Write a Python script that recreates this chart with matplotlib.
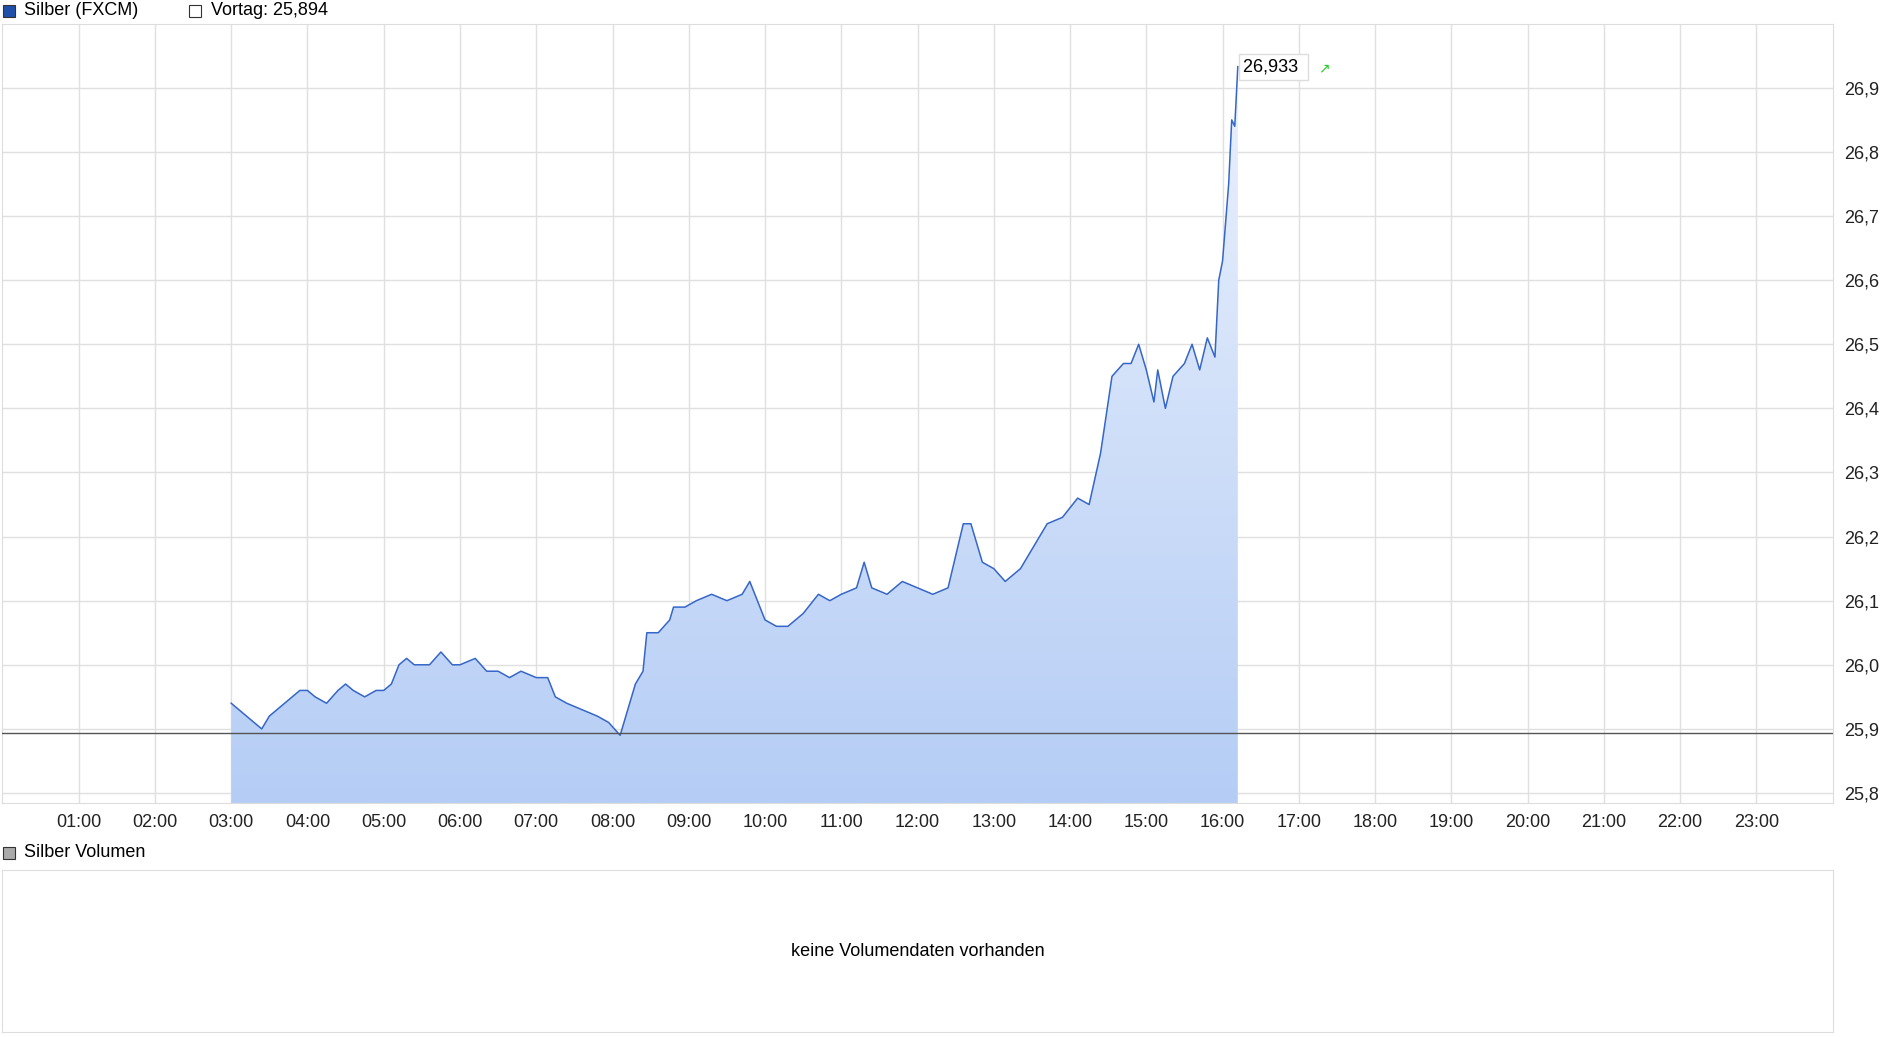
import matplotlib
matplotlib.use("Agg")
import matplotlib.pyplot as plt
import numpy as np
from matplotlib.patches import Polygon

plt.rcParams['font.family'] = ['Liberation Sans', 'DejaVu Sans']

times = [3.0,3.1,3.2,3.3,3.4,3.5,3.6,3.7,3.8,3.9,4.0,4.1,4.25,4.4,4.5,4.6,4.75,4.9,5.0,5.1,5.2,5.3,5.4,5.5,5.6,5.75,5.9,6.0,6.2,6.35,6.5,6.65,6.8,7.0,7.15,7.25,7.4,7.6,7.8,7.95,8.1,8.2,8.3,8.4,8.45,8.6,8.75,8.8,8.95,9.1,9.3,9.5,9.7,9.8,9.9,10.0,10.15,10.3,10.5,10.7,10.85,11.0,11.2,11.3,11.4,11.6,11.8,12.0,12.2,12.4,12.5,12.6,12.7,12.85,13.0,13.15,13.35,13.5,13.7,13.9,14.1,14.25,14.4,14.55,14.7,14.8,14.9,15.0,15.1,15.15,15.25,15.35,15.5,15.6,15.7,15.8,15.9,15.95,16.0,16.08,16.12,16.16,16.2]
prices = [25.94,25.93,25.92,25.91,25.90,25.92,25.93,25.94,25.95,25.96,25.96,25.95,25.94,25.96,25.97,25.96,25.95,25.96,25.96,25.97,26.0,26.01,26.0,26.0,26.0,26.02,26.0,26.0,26.01,25.99,25.99,25.98,25.99,25.98,25.98,25.95,25.94,25.93,25.92,25.91,25.89,25.93,25.97,25.99,26.05,26.05,26.07,26.09,26.09,26.1,26.11,26.1,26.11,26.13,26.1,26.07,26.06,26.06,26.08,26.11,26.1,26.11,26.12,26.16,26.12,26.11,26.13,26.12,26.11,26.12,26.17,26.22,26.22,26.16,26.15,26.13,26.15,26.18,26.22,26.23,26.26,26.25,26.33,26.45,26.47,26.47,26.5,26.46,26.41,26.46,26.4,26.45,26.47,26.5,26.46,26.51,26.48,26.6,26.63,26.75,26.85,26.84,26.933]
vortag = 25.894
yticks = [25.8,25.9,26.0,26.1,26.2,26.3,26.4,26.5,26.6,26.7,26.8,26.9]
xticks = list(range(1, 24))

fig = plt.figure(figsize=(18.8, 10.37), dpi=100)
ax = fig.add_axes([0.0013, 0.2254, 0.9735, 0.7511])
ymin, ymax = 25.784, 26.999
ax.set_xlim(0, 24); ax.set_ylim(ymin, ymax)

grad = np.linspace(0, 1, 256).reshape(-1, 1)
from matplotlib.colors import LinearSegmentedColormap
cmap = LinearSegmentedColormap.from_list('g', ['#b5cdf5', '#eaf1fd'])
im = ax.imshow(grad, cmap=cmap, origin='lower', aspect='auto',
               extent=[times[0], times[-1], ymin, max(prices)], zorder=1)
verts = [(times[0], ymin)] + list(zip(times, prices)) + [(times[-1], ymin)]
poly = Polygon(verts, closed=True, facecolor='none', edgecolor='none')
ax.add_patch(poly)
im.set_clip_path(poly)
ax.plot(times, prices, color='#3566c8', lw=1.1, zorder=3)
ax.axhline(vortag, color='#555555', lw=1, zorder=4)

ax.set_xticks(xticks)
ax.set_xticklabels([f"{h:02d}:00" for h in xticks])
ax.set_yticks(yticks)
ax.set_yticklabels([f"{v:.1f}".replace('.', ',') for v in yticks])
ax.yaxis.tick_right()
ax.tick_params(labelsize=13, length=0, pad=8, colors='#222222')
ax.grid(True, color='#e0e0e0', lw=1)
ax.set_axisbelow(True)
for s in ax.spines.values():
    s.set_color('#dddddd')

ax.annotate(f"{prices[-1]:.3f}".replace('.', ',') + " ", (times[-1], prices[-1]),
            xytext=(4, 0), textcoords='offset points', va='center', ha='left', fontsize=13,
            bbox=dict(boxstyle='square,pad=0.25', fc='white', ec='#dddddd'), zorder=6)
ax.text(times[-1] + 1.13, prices[-1] - 0.003, '↗', color='#22cc22', fontsize=10,
        va='center', ha='center', family=['DejaVu Sans'], zorder=7)

# legend
fig.patches.append(plt.Rectangle((0.0015, 0.9835), 0.0065, 0.0115, transform=fig.transFigure,
                                 fc='#1f4fa8', ec='#333333', lw=0.8))
fig.text(0.013, 0.99, 'Silber (FXCM)', fontsize=13, va='center')
fig.patches.append(plt.Rectangle((0.1005, 0.9835), 0.0065, 0.0115, transform=fig.transFigure,
                                 fc='white', ec='#333333', lw=0.8))
fig.text(0.112, 0.99, 'Vortag: 25,894', fontsize=13, va='center')

fig.patches.append(plt.Rectangle((0.0015, 0.172), 0.0065, 0.0115, transform=fig.transFigure,
                                 fc='#aaaaaa', ec='#333333', lw=0.8))
fig.text(0.013, 0.178, 'Silber Volumen', fontsize=13, va='center')

ax2 = fig.add_axes([0.0013, 0.0047, 0.9735, 0.1561])
ax2.set_xticks([]); ax2.set_yticks([])
for s in ax2.spines.values():
    s.set_color('#dddddd')
ax2.text(0.5, 0.5, 'keine Volumendaten vorhanden', ha='center', va='center', fontsize=13,
         transform=ax2.transAxes)

fig.savefig('out.png', dpi=100)
